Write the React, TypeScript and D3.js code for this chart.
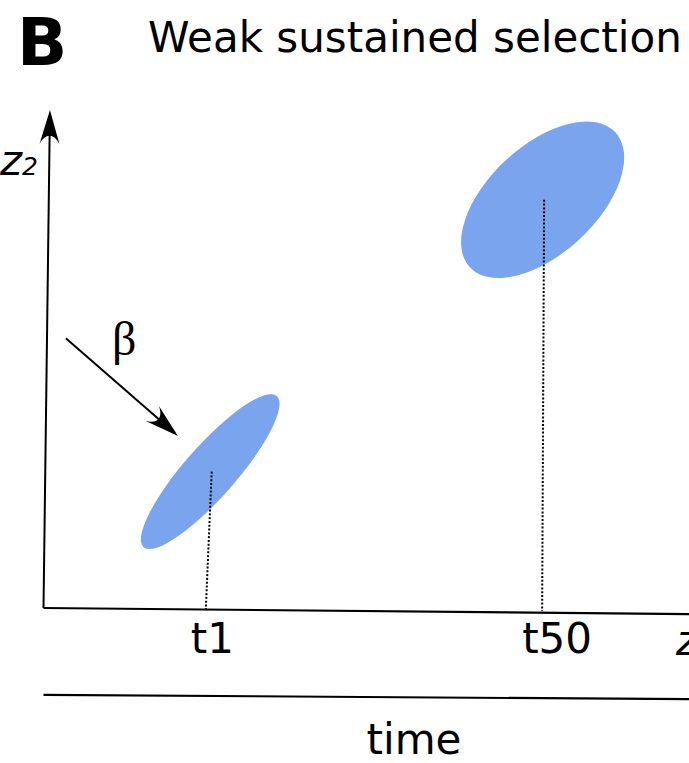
import React from 'react';
import * as d3 from 'd3';

// two snapshots of the population in trait space (z1, z2)
const timeLabels = ['t1', 't50'];
const meanZ1 = [33.6, 100.6];
const meanZ2 = [27.5, 82.3];
const majorSd = [20.3, 20.0];
const minorSd = [5.2, 10.9];
const tiltDeg = [48.6, 42.8];
const footZ1 = [32.7, 100.5];

// schematic axes, in trait units
const z2Axis = [[0, 0], [1.3, 100.4]];
const z1Axis = [[0, 0], [132, -1.25]];
const timeAxis = [[0, -17.5], [132, -18.4]];
const betaArrow = [[4.5, 54.4], [27.1, 34.7]];

const W = 689;
const H = 763;
const font = '"DejaVu Sans", sans-serif';

export default function App() {
  const x = d3.scaleLinear().domain([0, 130]).range([43.5, 688.5]);
  const y = d3.scaleLinear().domain([0, 100]).range([608, 112]);
  const k = x(1) - x(0);

  const line = d3.line<number[]>().x(d => x(d[0])).y(d => y(d[1]));

  // pull the shaft back a bit so it hides under the arrow head
  const shaft = (pts: number[][], back: number) => {
    const [a, b] = pts.map(p => [x(p[0]), y(p[1])]);
    const len = Math.hypot(b[0] - a[0], b[1] - a[1]);
    const t = (len - back) / len;
    return `M${a[0]},${a[1]}L${a[0] + (b[0] - a[0]) * t},${a[1] + (b[1] - a[1]) * t}`;
  };
  const head = (pts: number[][]) => {
    const [a, b] = pts.map(p => [x(p[0]), y(p[1])]);
    const ang = (Math.atan2(b[1] - a[1], b[0] - a[0]) * 180) / Math.PI;
    return (
      <path
        d="M0,0L-34,-10C-23,-4 -23,4 -34,10Z"
        transform={`translate(${b[0]},${b[1]}) rotate(${ang})`}
        fill="black"
      />
    );
  };

  const labelDx = [-15, -20];

  return (
    <svg width={W} height={H} style={{ position: 'absolute', left: 0, top: 0 }} fontFamily={font}>
      <rect width={W} height={H} fill="white" />

      <text x={17} y={65} fontSize={66} fontWeight="bold">B</text>
      <text x={148} y={52} fontSize={42}>Weak sustained selection</text>

      {timeLabels.map((t, i) => (
        <ellipse
          key={t}
          cx={x(meanZ1[i])}
          cy={y(meanZ2[i])}
          rx={majorSd[i] * k}
          ry={minorSd[i] * k}
          transform={`rotate(${-tiltDeg[i]} ${x(meanZ1[i])} ${y(meanZ2[i])})`}
          fill="#7aa5ee"
        />
      ))}

      {timeLabels.map((t, i) => (
        <g key={t}>
          <path
            d={line([[meanZ1[i] + 0.3, meanZ2[i]], [footZ1[i], -0.6]]) || ''}
            stroke="black"
            strokeWidth={2}
            strokeDasharray="2 1.8"
            fill="none"
          />
          <text x={x(footZ1[i]) + labelDx[i]} y={y(0) + 45} fontSize={42}>{t}</text>
        </g>
      ))}

      <path d={shaft(z2Axis, 20)} stroke="black" strokeWidth={2} fill="none" />
      {head(z2Axis)}
      <path d={line(z1Axis) || ''} stroke="black" strokeWidth={2.2} fill="none" />
      <path d={line(timeAxis) || ''} stroke="black" strokeWidth={2.2} fill="none" />

      <path d={shaft(betaArrow, 20)} stroke="black" strokeWidth={2} fill="none" />
      {head(betaArrow)}
      <text x={112} y={355} fontSize={48} fontFamily='"Liberation Serif", serif'>β</text>

      <text x={0} y={175} fontSize={42} fontStyle="italic">
        z<tspan fontSize={25}>2</tspan>
      </text>
      <text x={676} y={655} fontSize={42} fontStyle="italic">
        z<tspan fontSize={25}>1</tspan>
      </text>
      <text x={414} y={754} fontSize={42} textAnchor="middle">time</text>
    </svg>
  );
}
